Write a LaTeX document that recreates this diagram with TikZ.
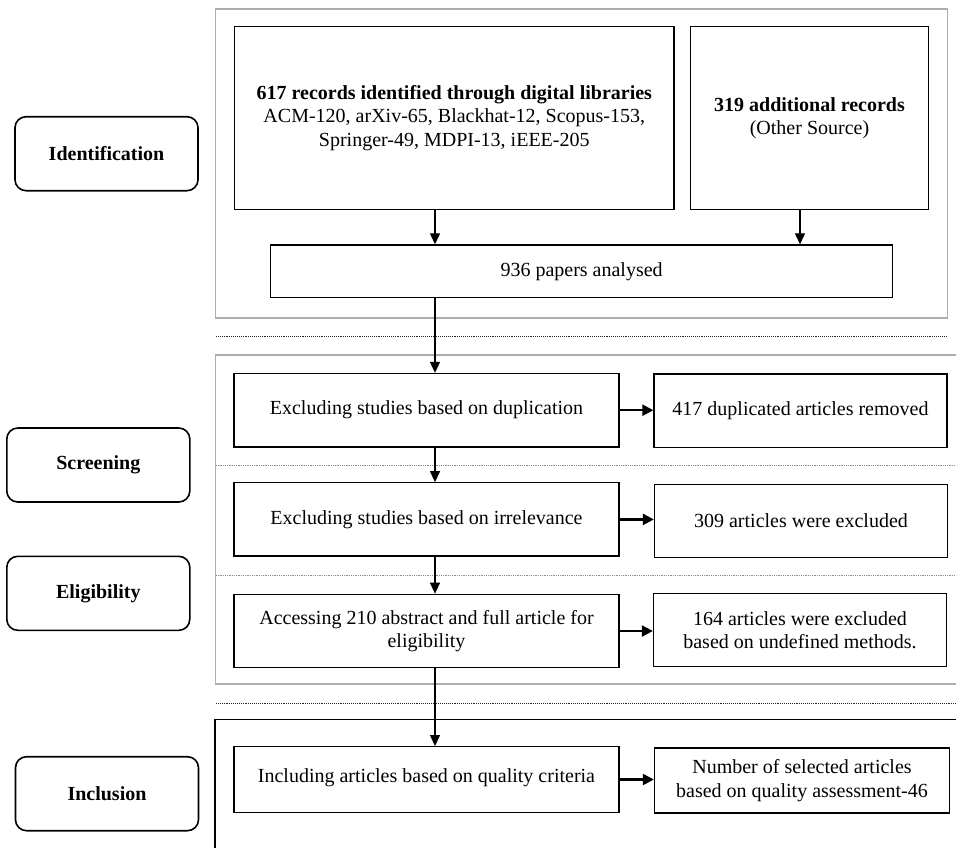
\documentclass[tikz,border=0pt]{standalone}
\usepackage{fontspec}
\setmainfont{Liberation Serif}
\usetikzlibrary{arrows.meta}
\begin{document}
\begin{tikzpicture}[x=1pt,y=-1pt,
  box/.style={draw, line width=1.3pt, inner sep=0pt, align=center, font=\fontsize{20}{23.3}\selectfont},
  stage/.style={draw, rounded corners=11pt, line width=1.6pt, inner sep=0pt, align=center, font=\fontsize{20}{23.3}\selectfont\bfseries, minimum width=183pt, minimum height=74pt},
  grayframe/.style={draw=black!32, line width=1.8pt},
  blackframe/.style={draw=black, line width=1.4pt},
  sepline/.style={densely dotted, line width=0.9pt, draw=black!85},
  seplight/.style={densely dotted, line width=0.8pt, draw=black!45},
  varrow/.style={line width=1.2pt, -{Triangle[length=11pt,width=10pt]}},
  harrow/.style={line width=2.2pt, -{Triangle[length=11pt,width=11pt]}}]
\clip (0,0) rectangle (956,847);
\fill[white] (0,0) rectangle (956,847);

% frames
\draw[grayframe] (215.5,9.3) rectangle (947.5,318);
\draw[grayframe] (960,355) -- (215.5,355) -- (215.5,684.3) -- (960,684.3);
\draw[blackframe] (960,719.3) -- (215,719.3) -- (215,850);

% separators
\draw[sepline] (216,336.7) -- (946,336.7);
\draw[seplight] (216,465) -- (956,465);
\draw[seplight] (216,575.3) -- (956,575.3);
\draw[sepline] (216,703.3) -- (956,703.3);

% stage labels
\node[stage] (ident) at (106.5,153.7) {Identification};
\node[stage] (screen) at (98.3,465) {Screening};
\node[stage] (elig) at (98.3,593.3) {Eligibility};
\node[stage] (incl) at (107,793.7) {Inclusion};

% identification boxes
\node[box, minimum width=439.3pt, minimum height=182.6pt] (b617) at (454.3,118)
  {\textbf{617 records identified through digital libraries}\\ACM-120, arXiv-65, Blackhat-12, Scopus-153,\\Springer-49, MDPI-13, iEEE-205};
\node[box, minimum width=238pt, minimum height=182.6pt] (b319) at (809.5,118)
  {\textbf{319 additional records}\\(Other Source)};
\node[box, minimum width=622.4pt, minimum height=52.7pt] (b936) at (581.6,271.3) {936 papers analysed};

% screening / eligibility / inclusion boxes
\node[box, minimum width=385pt, minimum height=73.5pt] (exc1) at (426.5,410.2) {Excluding studies based on duplication};
\node[box, minimum width=293pt, minimum height=73.3pt] (out1) at (800.5,410.6) {417 duplicated articles removed};
\node[box, minimum width=385pt, minimum height=73.3pt] (exc2) at (426.5,519.4) {Excluding studies based on irrelevance};
\node[box, minimum width=293pt, minimum height=73.3pt] (out2) at (801,520.8) {309 articles were excluded};
\node[box, minimum width=385pt, minimum height=73.4pt] (exc3) at (426.5,631) {Accessing 210 abstract and full article for\\eligibility};
\node[box, minimum width=293pt, minimum height=73.4pt] (out3) at (800,630) {164 articles were excluded\\based on undefined methods.};
\node[box, minimum width=385pt, minimum height=65.6pt] (exc4) at (426.5,779.5) {\raisebox{7pt}{Including articles based on quality criteria}};
\node[box, minimum width=295pt, minimum height=65pt] (out4) at (802,780.5) {Number of selected articles\\based on quality assessment-46};

% arrows
\coordinate (ax) at (435,0);
\coordinate (bx) at (800,0);
\draw[varrow] (b617.south -| ax) -- (b936.north -| ax);
\draw[varrow] (b319.south -| bx) -- (b936.north -| bx);
\draw[varrow] (b936.south -| ax) -- (exc1.north -| ax);
\draw[varrow] (exc1.south -| ax) -- (exc2.north -| ax);
\draw[varrow] (exc2.south -| ax) -- (exc3.north -| ax);
\draw[varrow] (exc3.south -| ax) -- (exc4.north -| ax);
\draw[harrow] (exc1.east) -- (exc1.east -| out1.west);
\draw[harrow] (exc2.east) -- (exc2.east -| out2.west);
\draw[harrow] (exc3.east) -- (exc3.east -| out3.west);
\draw[harrow] (exc4.east) -- (exc4.east -| out4.west);
\end{tikzpicture}
\end{document}
